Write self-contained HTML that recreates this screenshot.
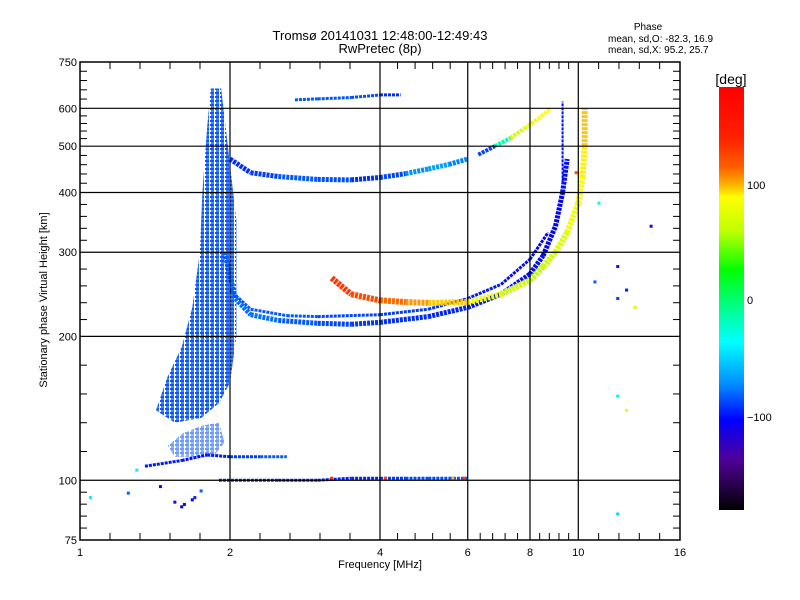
<!DOCTYPE html>
<html><head><meta charset="utf-8">
<style>
body{margin:0;background:#fff;}
svg{display:block;font-family:"Liberation Sans",sans-serif;}
text{fill:#000;}
</style></head>
<body>
<svg id="chart" width="800" height="600" viewBox="0 0 800 600" xmlns="http://www.w3.org/2000/svg">
<defs>
<linearGradient id="cbar" x1="0" y1="0" x2="0" y2="1">
<stop offset="0" stop-color="#ff0000"/>
<stop offset="0.12" stop-color="#ff2000"/>
<stop offset="0.19" stop-color="#ff6000"/>
<stop offset="0.23" stop-color="#ffb000"/>
<stop offset="0.26" stop-color="#ffff00"/>
<stop offset="0.34" stop-color="#c0ff00"/>
<stop offset="0.433" stop-color="#00ff00"/>
<stop offset="0.53" stop-color="#00ff99"/>
<stop offset="0.603" stop-color="#00ffff"/>
<stop offset="0.70" stop-color="#0090ff"/>
<stop offset="0.787" stop-color="#0000ff"/>
<stop offset="0.88" stop-color="#50009a"/>
<stop offset="1" stop-color="#000000"/>
</linearGradient>
<pattern id="dots" width="5" height="4" patternUnits="userSpaceOnUse">
<rect x="0" y="0" width="5" height="4" fill="#ffffff"/>
<rect x="0" y="0" width="4" height="2" fill="#1f4cff"/>
<rect x="1" y="2" width="3" height="2" fill="#2a8cff"/>
</pattern>
</defs>
<g id="plot"></g>
<g id="axes"></g>
<text x="380" y="40" font-size="13" text-anchor="middle">Tromsø 20141031 12:48:00-12:49:43</text>
<text x="380" y="53" font-size="13" text-anchor="middle">RwPretec (8p)</text>
<text x="648" y="30" font-size="10" text-anchor="middle">Phase</text>
<text x="608" y="42" font-size="10">mean, sd,O: -82.3, 16.9</text>
<text x="608" y="53" font-size="10">mean, sd,X:  95.2, 25.7</text>
<text x="380" y="568" font-size="11" text-anchor="middle">Frequency [MHz]</text>
<text transform="translate(47,300) rotate(-90)" font-size="11" text-anchor="middle">Stationary phase Virtual Height [km]</text>
<rect x="719" y="87" width="25" height="423" fill="url(#cbar)"/>
<text x="731" y="84" font-size="14" text-anchor="middle">[deg]</text>
<text x="747" y="189" font-size="11">100</text>
<text x="747" y="304" font-size="11">0</text>
<text x="747" y="421" font-size="11">−100</text>
</svg>
<script>
// axis ticks
const xTickVals=[1,2,4,6,8,10,16];
const yTickVals=[75,100,200,300,400,500,600,750];
// traces: freq (MHz), height (km), phase (deg)
const oLowerFreq=[1.95,2.05,2.2,2.5,3,3.5,4,5,6,7,8,8.5,9,9.3,9.5];
const oLowerHeight=[300,240,222,216,213,212,214,220,230,245,270,295,340,400,470];
const oLowerPhase=[-85,-80,-75,-80,-85,-90,-90,-95,-95,-100,-100,-100,-105,-100,-100];
const oBranchFreq=[2.0,2.2,2.6,3,4,5,6,7,8,8.7];
const oBranchHeight=[250,228,221,220,222,228,240,257,290,330];
const oBranchPhase=[-80,-85,-80,-85,-90,-90,-95,-100,-100,-105];
const xTraceFreq=[3.2,3.5,4,4.5,5,6,7,8,8.5,9,9.5,10,10.2,10.3,10.3];
const xTraceHeight=[265,245,238,236,235,236,245,262,280,300,330,380,430,500,600];
const xTracePhase=[150,140,130,120,110,100,80,60,60,70,80,90,95,100,110];
const upperFreq=[2.0,2.2,2.5,3,3.5,4,4.5,5,5.5,6];
const upperHeight=[470,440,432,426,425,430,438,448,458,470];
const upperPhase=[-90,-95,-85,-80,-90,-95,-80,-60,-70,-75];
const upper2Freq=[6.3,6.8,7.3,7.8,8.3,8.8];
const upper2Height=[480,500,520,545,570,600];
const upper2Phase=[-85,-90,60,80,90,100];
const topFreq=[2.7,3,3.5,4,4.4];
const topHeight=[625,628,632,640,640];
const topPhase=[-80,-85,-80,-90,-95];
const e112Freq=[1.35,1.6,1.8,2.0,2.3,2.6];
const e112Height=[107,110,113,112,112,112];
const e112Phase=[-95,-100,-100,-95,-85,-80];
const e100Freq=[1.9,2.5,3,3.5,4,4.5,5,5.5,6];
const e100Height=[100,100,100,101,101,101,101,101,101];
const e100Phase=[-95,-90,-100,-90,-100,-80,-90,-80,-85];
const vertFreq=[9.3,9.3];
const vertHeight=[420,620];
const vertPhase=[-100,-100];
const spreadFreq=[1.42,1.5,1.6,1.68,1.74,1.76,1.8,1.83,1.92,1.98,2.06,2.06,2.0,1.9,1.75,1.55];
const spreadHeight=[140,165,190,230,300,400,550,660,660,500,350,200,160,145,135,132];
const lowerClusterFreq=[1.5,1.6,1.75,1.9,1.95,1.85,1.7,1.55];
const lowerClusterHeight=[118,125,130,132,120,112,112,112];
const scatterFreq=[1.05,1.25,1.45,1.55,1.6,1.7,1.75,1.3,1.62,1.68,12,12,12.5,13,12,14,11,12.5,12,10.8,9.9,3.2,4.1,5.6,5.9];
const scatterHeight=[92,94,97,90,88,92,95,105,89,91,150,240,250,230,280,340,380,140,85,260,440,101,101,101,101];
const scatterPhase=[-40,-80,-110,-100,-110,-95,-80,-40,-100,-110,-40,-90,-95,70,-100,-120,-30,80,-50,-80,130,150,140,110,140];

const X=f=>80+150*Math.log2(f);
const Y=h=>540-478*Math.log10(h/75);
const stops=[[180,[255,0,0]],[130,[255,80,0]],[110,[255,176,0]],[95,[255,255,0]],[60,[192,255,0]],[26,[0,255,0]],[-10,[0,255,153]],[-36,[0,255,255]],[-70,[0,144,255]],[-103,[0,0,255]],[-140,[80,0,154]],[-180,[0,0,0]]];
function cmap(v){for(let i=0;i<stops.length-1;i++){const [a,ca]=stops[i],[b,cb]=stops[i+1];if(v<=a&&v>=b){const t=(a-v)/(a-b);return 'rgb('+ca.map((c,k)=>Math.round(c+(cb[k]-c)*t)).join(',')+')';}}return v>180?'#f00':'#000';}
const NS='http://www.w3.org/2000/svg';
const plot=document.getElementById('plot'),axes=document.getElementById('axes');
function mk(tag,attrs,parent){const e=document.createElementNS(NS,tag);for(const k in attrs)e.setAttribute(k,attrs[k]);parent.appendChild(e);return e;}

// spread-F blob
const pts=spreadFreq.map((f,i)=>X(f)+','+Y(spreadHeight[i])).join(' ');
const blob=mk('polygon',{points:pts,fill:'url(#dots)'},plot);


const pts2=lowerClusterFreq.map((f,i)=>X(f)+','+Y(lowerClusterHeight[i])).join(' ');
const blob2=mk('polygon',{points:pts2,fill:'url(#dots)','fill-opacity':'0.6'},plot);



function trace(name,fs,hs,ps,w){
  const g=mk('g',{},plot);
  
  
  for(let i=0;i<fs.length-1;i++){
    const s=mk('line',{x1:X(fs[i]),y1:Y(hs[i]),x2:X(fs[i+1]),y2:Y(hs[i+1]),stroke:cmap((ps[i]+ps[i+1])/2),'stroke-width':w,'stroke-dasharray':'3 1','stroke-linecap':'butt'},g);
    
    
  }
}
trace('o-lower-trace',oLowerFreq,oLowerHeight,oLowerPhase,5);
trace('o-branch-trace',oBranchFreq,oBranchHeight,oBranchPhase,3);
trace('x-trace',xTraceFreq,xTraceHeight,xTracePhase,6);
trace('upper-trace',upperFreq,upperHeight,upperPhase,5);
trace('upper2-trace',upper2Freq,upper2Height,upper2Phase,4);
trace('top-trace',topFreq,topHeight,topPhase,3);
trace('e-112-trace',e112Freq,e112Height,e112Phase,3);
trace('e-100-trace',e100Freq,e100Height,e100Phase,3);
trace('vertical-trace',vertFreq,vertHeight,vertPhase,2);
scatterFreq.forEach((f,i)=>{
  const r=mk('rect',{x:X(f)-1.5,y:Y(scatterHeight[i])-1.5,width:3,height:3,fill:cmap(scatterPhase[i])},plot);
  
  
});

// grid and axes
const L=80,R=680,T=62,B=540;
xTickVals.slice(1,-1).forEach(v=>{
  const l=mk('line',{x1:X(v),x2:X(v),y1:T,y2:B,stroke:'#000','stroke-width':1.2},axes);
  
  
});
yTickVals.slice(1,-1).forEach(v=>{
  const l=mk('line',{x1:L,x2:R,y1:Y(v),y2:Y(v),stroke:'#000','stroke-width':1.2},axes);
  
  
});
const frame=mk('rect',{x:L,y:T,width:R-L,height:B-T,fill:'none',stroke:'#000','stroke-width':1.5},axes);


for(let i=0;i<xTickVals.length-1;i++){
  const a=X(xTickVals[i]),b=X(xTickVals[i+1]);
  for(let k=1;k<5;k++){const x=a+(b-a)*k/5;
    const t1=mk('line',{x1:x,x2:x,y1:B,y2:B-7,stroke:'#000'},axes);
    
    
    const t2=mk('line',{x1:x,x2:x,y1:T,y2:T+7,stroke:'#000'},axes);
    
    }
}
for(let i=0;i<yTickVals.length-1;i++){
  const a=Y(yTickVals[i]),b=Y(yTickVals[i+1]);
  for(let k=1;k<5;k++){const y=a+(b-a)*k/5;
    const t1=mk('line',{x1:L,x2:L+7,y1:y,y2:y,stroke:'#000'},axes);
    
    
    const t2=mk('line',{x1:R,x2:R-7,y1:y,y2:y,stroke:'#000'},axes);
    
    }
}
xTickVals.forEach(v=>{
  const t=mk('text',{x:X(v),y:556,'font-size':11,'text-anchor':'middle'},axes);
  t.textContent=v;
  
  
});
yTickVals.forEach(v=>{
  const t=mk('text',{x:L-3,y:Y(v)+4,'font-size':11,'text-anchor':'end'},axes);
  t.textContent=v;
  
  
});
</script>
</body></html>
